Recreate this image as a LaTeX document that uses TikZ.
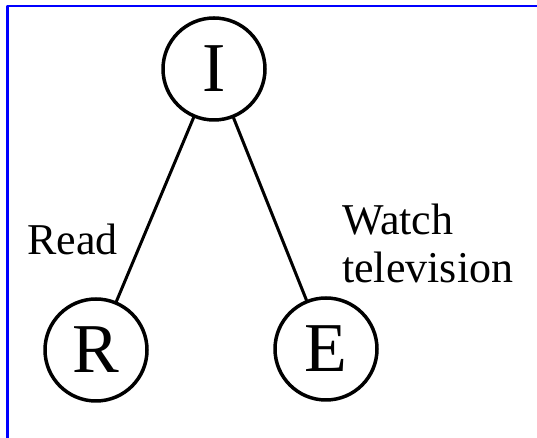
\documentclass[tikz,border=0pt]{standalone}
\usepackage{fontspec}
\setmainfont{Liberation Serif}
\definecolor{frameblue}{RGB}{0,0,255}
\tikzset{
  state/.style={circle, draw, line width=3.5bp, minimum size=102bp, inner sep=0pt,
    font=\fontsize{70bp}{70bp}\selectfont},
  choice/.style={inner sep=0pt, font=\fontsize{44bp}{48bp}\selectfont}
}
\begin{document}
\begin{tikzpicture}[x=1bp, y=1bp, line join=round, line cap=round]
  \useasboundingbox (0,0) rectangle (537,438);
  % frame
  \draw[frameblue, line width=2.5bp] (7.7,0) -- (7.7,432) -- (537,432);
  % tree
  \node[state] (I) at (214,369) {I};
  \node[state] (R) at (96,88) {R};
  \node[state] (E) at (326,89) {E};
  \draw[line width=3bp] (I) -- (R) (I) -- (E);
  \path (27,183) node[choice, anchor=base west] (read) {Read}
        (342,155) node[choice, anchor=base west, align=left] (watch) {Watch\\television};
\end{tikzpicture}
\end{document}
